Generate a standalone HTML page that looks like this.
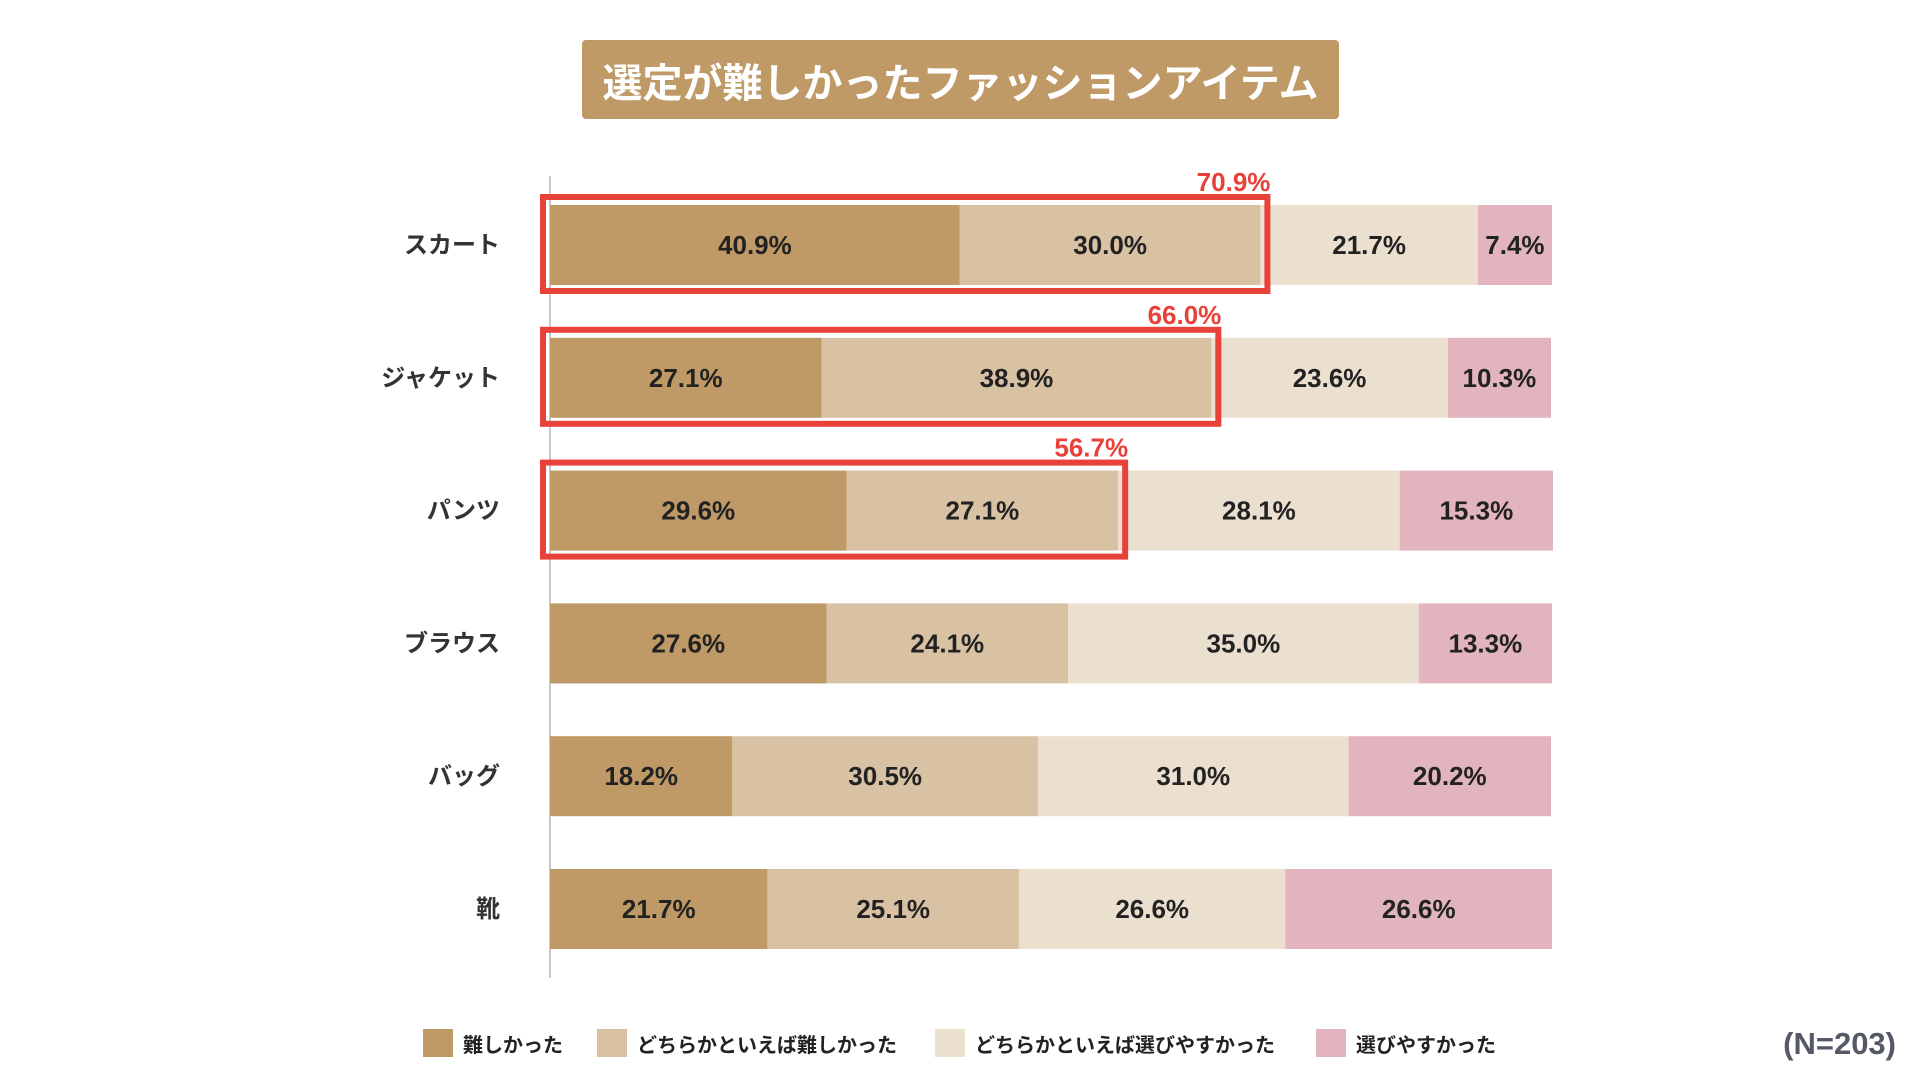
<!DOCTYPE html>
<html><head><meta charset="utf-8"><style>
body{margin:0;width:1920px;height:1080px;background:#fff;font-family:"Liberation Sans","Noto Sans CJK JP",sans-serif;overflow:hidden;position:relative}
#title{position:absolute;left:582px;top:40px;width:757px;height:79px;background:#bf9a66;border-radius:4px;color:#fff;font-weight:bold;font-size:40px;display:flex;align-items:center;justify-content:center}
.leg{position:absolute;top:1029px;height:28px;display:flex;align-items:center;font-size:20px;font-weight:bold;color:#222}
.leg i{display:inline-block;width:30px;height:28px;margin-right:10px}
#n{position:absolute;right:24px;top:1026px;font-size:31px;font-weight:bold;color:#555866}
</style></head><body>
<div id="title">選定が難しかったファッションアイテム</div>
<svg id="chart" width="1920" height="1080" style="position:absolute;left:0;top:0;font-family:'Liberation Sans','Noto Sans CJK JP',sans-serif"></svg>
<div class="leg" style="left:423px"><i style="background:#bf9a66"></i>難しかった</div>
<div class="leg" style="left:597px"><i style="background:#d9c2a3"></i>どちらかといえば難しかった</div>
<div class="leg" style="left:935px"><i style="background:#ebdfd0"></i>どちらかといえば選びやすかった</div>
<div class="leg" style="left:1316px"><i style="background:#e2b4bd"></i>選びやすかった</div>
<div id="n">(N=203)</div>
<script>
const categories=["スカート","ジャケット","パンツ","ブラウス","バッグ","靴"];
const difficult=[40.9,27.1,29.6,27.6,18.2,21.7];
const somewhatDifficult=[30.0,38.9,27.1,24.1,30.5,25.1];
const somewhatEasy=[21.7,23.6,28.1,35.0,31.0,26.6];
const easy=[7.4,10.3,15.3,13.3,20.2,26.6];
const highlighted=[0,1,2];
const series=[difficult,somewhatDifficult,somewhatEasy,easy];
const seriesNames=["difficult","somewhat-difficult","somewhat-easy","easy"];
const colors=["#bf9a66","#d9c2a3","#ebdfd0","#e2b4bd"];
const NS="http://www.w3.org/2000/svg";
const svg=document.getElementById('chart');
const x0=550,plotW=1002,y0=205,step=132.8,bh=80;
const xs=v=>x0+v/100*plotW;
const yr=i=>y0+i*step;
function mk(t,a){const e=document.createElementNS(NS,t);for(const k in a)e.setAttribute(k,a[k]);svg.appendChild(e);return e;}
const ax=mk('line',{x1:550,x2:550,y1:176,y2:978,stroke:'#c8c8cc','stroke-width':2});


categories.forEach((c,i)=>{
  const y=yr(i);
  const lb=mk('text',{x:500,y:y+bh/2+8,'text-anchor':'end','font-size':24,'font-weight':'bold',fill:'#333'});
  lb.textContent=c;
  
  
  let cum=0;
  series.forEach((s,k)=>{
    const v=s[i];
    const r=mk('rect',{x:xs(cum),y:y,width:xs(cum+v)-xs(cum),height:bh,fill:colors[k]});
    
    
    const t=mk('text',{x:(xs(cum)+xs(cum+v))/2,y:y+bh/2+9,'text-anchor':'middle','font-size':26,'font-weight':'bold',fill:'#222'});
    t.textContent=v.toFixed(1)+'%';
    
    
    cum+=v;
  });
  if(highlighted.includes(i)){
    const tot=difficult[i]+somewhatDifficult[i];
    const bx=mk('rect',{x:x0-7,y:y-8,width:xs(tot)-x0+14,height:bh+14,fill:'none',stroke:'#e8413a','stroke-width':6});
    
    
    const tl=mk('text',{x:xs(tot)+10,y:y-14,'text-anchor':'end','font-size':26,'font-weight':'bold',fill:'#e8413a'});
    tl.textContent=tot.toFixed(1)+'%';
    
    
  }
});
</script>
</body></html>
